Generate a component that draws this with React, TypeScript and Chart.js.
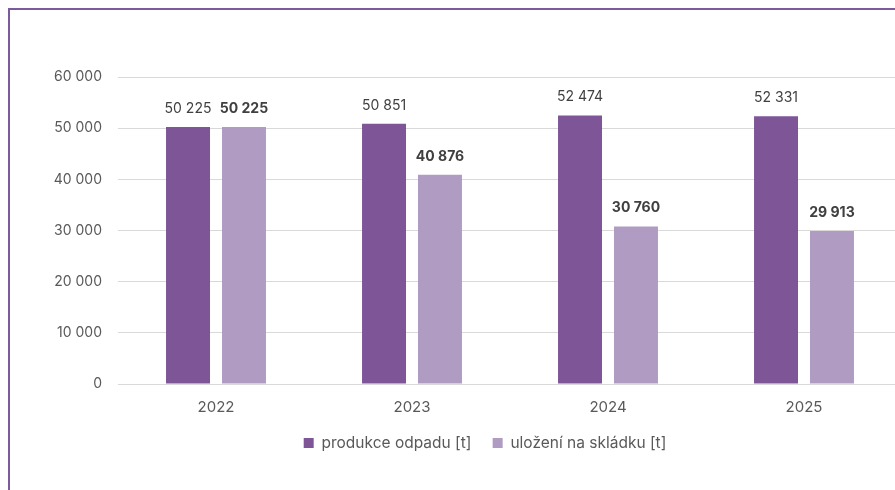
import React, { useEffect, useRef } from "react";
import { Chart, registerables } from "chart.js";

Chart.register(...registerables);

const categories = ["2022", "2023", "2024", "2025"];
const produkceOdpadu = [50225, 50851, 52474, 52331];
const ulozeniNaSkladku = [50225, 40876, 30760, 29913];
const seriesNames = ["produkce odpadu [t]", "uložení na skládku [t]"];
const yTicks = { min: 0, max: 60000, step: 10000 };

const FONT = "Inter, 'Open Sans', sans-serif";
const fmt = (v: number) => String(Math.round(v)).replace(/\B(?=(\d{3})+(?!\d))/g, " ");

const labelPlugin = {
  id: "barValueLabels",
  afterDatasetsDraw(chart: any) {
    const ctx = chart.ctx;
    ctx.save();
    ctx.textAlign = "center";
    ctx.textBaseline = "middle";
    ctx.fillStyle = "#404040";
    chart.data.datasets.forEach((ds: any, di: number) => {
      const meta = chart.getDatasetMeta(di);
      ctx.font = `${di === 1 ? "bold " : ""}14px ${FONT}`;
      meta.data.forEach((el: any, i: number) => {
        ctx.fillText(fmt(ds.data[i]), el.x, el.y - 18.5);
      });
    });
    ctx.restore();
  },
};

export default function App() {
  const ref = useRef<HTMLCanvasElement>(null);
  useEffect(() => {
    if (!ref.current) return;
    const chart = new Chart(ref.current, {
      type: "bar",
      data: {
        labels: categories,
        datasets: [
          {
            label: seriesNames[0],
            data: produkceOdpadu,
            backgroundColor: "#7e5698",
            categoryPercentage: 0.571,
            barPercentage: 0.786,
            yAxisID: "y",
          },
          {
            label: seriesNames[1],
            data: ulozeniNaSkladku,
            backgroundColor: "#b09bc3",
            categoryPercentage: 0.571,
            barPercentage: 0.786,
            yAxisID: "y",
          },
        ],
      },
      options: {
        responsive: false,
        animation: false,
        layout: { padding: { top: 67, bottom: 29.25, left: 0, right: 0 } },
        plugins: {
          tooltip: { enabled: false },
          legend: {
            position: "bottom",
            labels: {
              boxWidth: 10,
              boxHeight: 10,
              padding: 21.25,
              color: "#595959",
              font: { family: FONT, size: 15.5 },
            },
          },
        },
        scales: {
          x: {
            grid: { display: false, drawTicks: false },
            border: { display: true, color: "#d9d9d9", width: 1 },
            ticks: {
              color: "#595959",
              font: { family: FONT, size: 15, lineHeight: 0.8 },
              padding: 17,
            },
            afterFit: (s: any) => {
              s.height = 30;
            },
          },
          y: {
            position: "left",
            min: yTicks.min,
            max: yTicks.max,
            grid: { color: "#d9d9d9", drawTicks: false, lineWidth: 1 },
            border: { display: false },
            ticks: {
              stepSize: yTicks.step,
              color: "#595959",
              font: { family: FONT, size: 14 },
              padding: 16,
              callback: (v: any) => fmt(Number(v)),
            },
            afterFit: (s: any) => {
              s.width = 108;
            },
          },
          yR: {
            position: "right",
            display: true,
            grid: { display: false, drawTicks: false },
            border: { display: false },
            ticks: { display: false },
            afterFit: (s: any) => {
              s.width = 58;
            },
          },
        },
      },
      plugins: [labelPlugin],
    } as any);
    return () => chart.destroy();
  }, []);

  return (
    <div style={{ position: "fixed", left: 8, top: 8, right: 0, bottom: 0, overflow: "hidden" }}>
      <div
        style={{
          border: "2px solid #7e5a9c",
          width: 950,
          height: 520,
          position: "relative",
          background: "#ffffff",
        }}
      >
        <canvas ref={ref} width={950} height={480} style={{ display: "block" }} />
      </div>
    </div>
  );
}
